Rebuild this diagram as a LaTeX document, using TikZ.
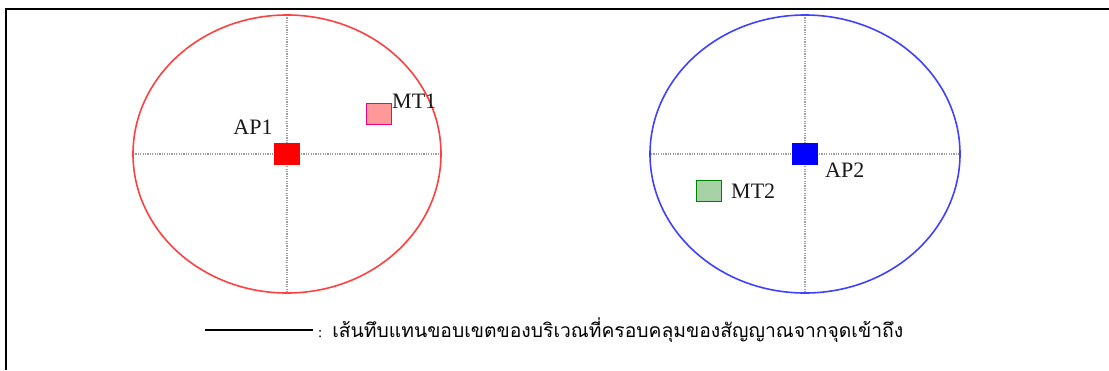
\documentclass[tikz,border=0pt]{standalone}
\usepackage{fontspec}
\setmainfont{Liberation Serif}
\newfontfamily\thaifont[Script=Thai]{Loma}
\begin{document}
\begin{tikzpicture}[x=1pt,y=-1pt,
  axis/.style={draw=gray!75, line width=1.6pt, dash pattern=on 1.2pt off 1.2pt},
  cover/.style={line width=1.6pt},
  apbox/.style={minimum width=26pt, minimum height=22pt, inner sep=0pt},
  mtbox/.style={minimum width=25pt, minimum height=21pt, inner sep=0pt, line width=1.5pt},
  lbl/.style={font=\fontsize{22}{24}\selectfont, inner sep=0pt, text=black!90}]
\useasboundingbox (0,0) rectangle (1109,370);
% frame
\draw[line width=2pt] (6,370) -- (6,9) -- (1109,9);
% left cell
\coordinate (c1) at (287,154);
\coordinate (l1) at (133,154); \coordinate (r1) at (441,154);
\coordinate (t1) at (287,15); \coordinate (b1) at (287,293);
\draw[axis] (l1) -- (r1);
\draw[axis] (t1) -- (b1);
\draw[cover, draw=red!75] (c1) ellipse [x radius=154, y radius=139];
\node[apbox, fill=red] (ap1) at (c1) {};
\node[lbl] (ap1l) at (253,127) {AP1};
\node[mtbox, draw=magenta, fill=red!40] (mt1) at (379,114) {};
\node[lbl, anchor=west] (mt1l) at (392,101) {MT1};
% right cell
\coordinate (c2) at (805,154);
\coordinate (l2) at (651,154); \coordinate (r2) at (960,154);
\coordinate (t2) at (805,15); \coordinate (b2) at (805,293);
\draw[axis] (l2) -- (r2);
\draw[axis] (t2) -- (b2);
\draw[cover, draw=blue!75] (c2) ellipse [x radius=155, y radius=139];
\node[apbox, fill=blue] (ap2) at (c2) {};
\node[lbl, anchor=west] (ap2l) at (825,170) {AP2};
\node[mtbox, draw=green!50!black, fill=green!50!black!35] (mt2) at (709,191) {};
\node[lbl, anchor=west] (mt2l) at (731,191) {MT2};
% legend
\coordinate (la) at (205,330); \coordinate (lb) at (313,330);
\draw[line width=1.2pt] (la) -- (lb);
\node[anchor=west, inner sep=0pt] (leg) at (318,330) {\fontsize{15}{17}\selectfont :\hspace{10pt}{\thaifont\fontsize{19.3}{21}\selectfont เส้นทึบแทนขอบเขตของบริเวณที่ครอบคลุมของสัญญาณจากจุดเข้าถึง}};
\end{tikzpicture}
\end{document}
